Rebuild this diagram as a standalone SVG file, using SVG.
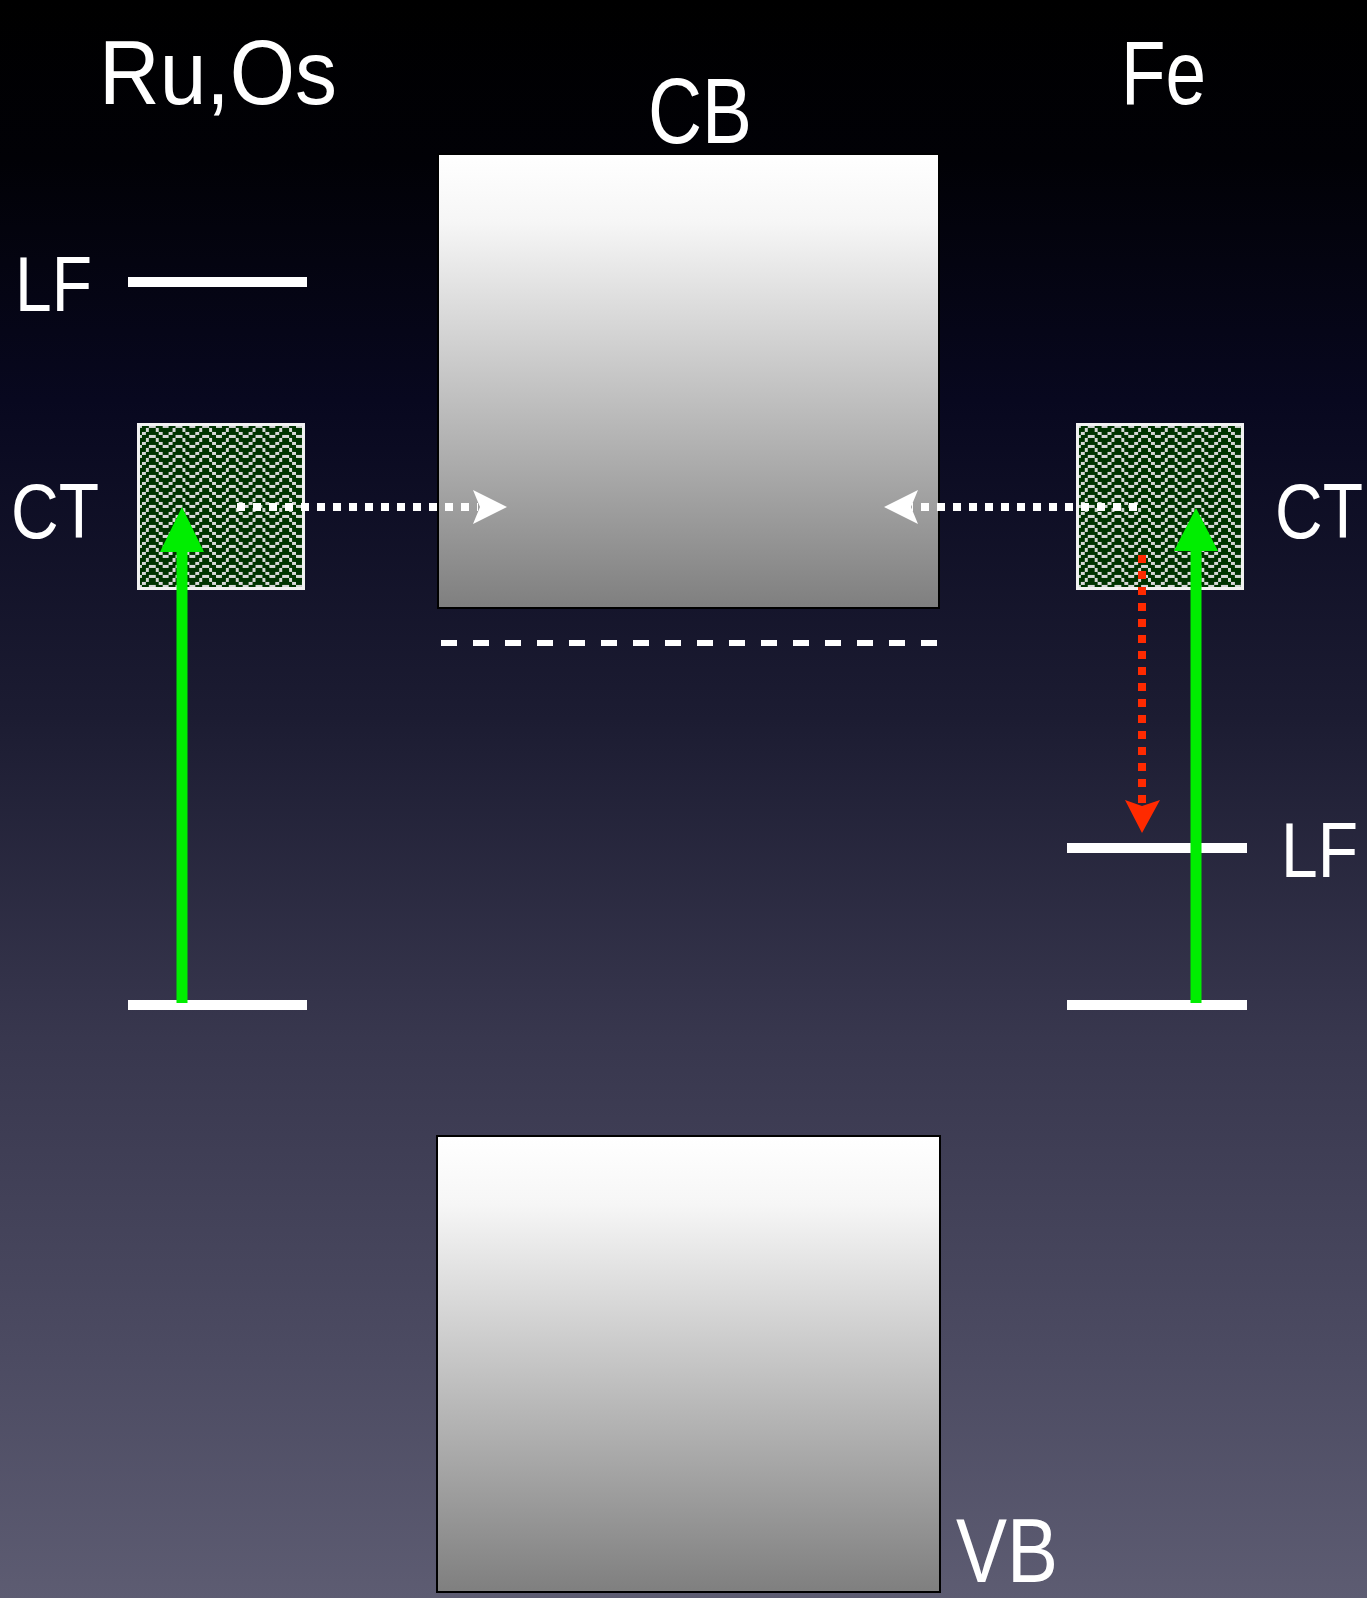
<svg xmlns="http://www.w3.org/2000/svg" width="1367" height="1598" viewBox="0 0 1367 1598">
  <defs>
    <linearGradient id="bg" x1="0" y1="0" x2="0" y2="1">
      <stop offset="0" stop-color="#000000"/>
      <stop offset="0.1" stop-color="#010106"/>
      <stop offset="0.25" stop-color="#08081f"/>
      <stop offset="0.45" stop-color="#1c1c32"/>
      <stop offset="0.65" stop-color="#38374e"/>
      <stop offset="0.85" stop-color="#4c4b62"/>
      <stop offset="1" stop-color="#5d5c72"/>
    </linearGradient>
    <linearGradient id="band" x1="0" y1="0" x2="0" y2="1">
      <stop offset="0" stop-color="#ffffff"/>
      <stop offset="0.15" stop-color="#f6f6f6"/>
      <stop offset="1" stop-color="#7f7f7f"/>
    </linearGradient>
    <pattern id="weave" patternUnits="userSpaceOnUse" patternTransform="scale(3.333)" x="41.7" y="127.5" width="8" height="3">
      <rect width="8" height="3" fill="#003300"/>
      <g fill="#d8d8d8" shape-rendering="crispEdges">
        <rect x="0" y="0" width="1" height="1"/>
        <rect x="3" y="0" width="2" height="1"/>
        <rect x="7" y="0" width="1" height="1"/>
        <rect x="2" y="1" width="1" height="1"/>
        <rect x="5" y="1" width="1" height="1"/>
        <rect x="1" y="2" width="1" height="1"/>
        <rect x="6" y="2" width="1" height="1"/>
      </g>
    </pattern>
    <pattern id="weave2" href="#weave" x="323.4"/>
  </defs>
  <style>
    .lbl { fill: #ffffff; font-family: "Liberation Sans", "DejaVu Sans", sans-serif; }
    .big { font-size: 90px; }
    .small { font-size: 66px; }
    .band { fill: url(#band); stroke: #000000; stroke-width: 2; }
    .level { stroke: #ffffff; stroke-width: 10; }
    .ct { stroke: #f2f2f2; stroke-width: 3; }
    .green { stroke: #00ee00; stroke-width: 11; fill: none; }
    .gh { fill: #00ee00; }
    .wdot { stroke: #ffffff; stroke-width: 8; stroke-dasharray: 8 8; fill: none; }
    .wh { fill: #ffffff; }
    .rdot { stroke: #ff2a00; stroke-width: 8; stroke-dasharray: 8 8; fill: none; }
    .rh { fill: #ff2a00; }
  </style>

  <rect x="0" y="0" width="1367" height="1598" fill="url(#bg)"/>

  <g id="title-ruos"><text class="lbl big" x="99" y="104" textLength="238" lengthAdjust="spacingAndGlyphs">Ru,Os</text></g>
  <g id="title-fe"><text class="lbl big" x="1121" y="104" textLength="85" lengthAdjust="spacingAndGlyphs">Fe</text></g>

  <g id="cb">
    <rect class="band" x="438" y="154" width="501" height="454"/>
    <text class="lbl big" x="648" y="143" textLength="104" lengthAdjust="spacingAndGlyphs" style="font-size:92px">CB</text>
  </g>

  <g id="vb">
    <rect class="band" x="437" y="1136" width="503" height="456"/>
    <text class="lbl big" x="956" y="1582" textLength="102" lengthAdjust="spacingAndGlyphs">VB</text>
  </g>

  <g id="dashed-level">
    <line x1="441" y1="643" x2="937" y2="643" stroke="#ffffff" stroke-width="6" stroke-dasharray="16 16"/>
  </g>

  <g id="left-lf">
    <line class="level" x1="128" y1="282" x2="307" y2="282"/>
    <text class="lbl small" transform="translate(15,311) scale(1,1.18)">LF</text>
  </g>
  <g id="left-ground">
    <line class="level" x1="128" y1="1005" x2="307" y2="1005"/>
  </g>
  <g id="left-ct">
    <rect class="ct" x="138.5" y="424.5" width="165" height="164" fill="url(#weave)"/>
    <text class="lbl small" transform="translate(11,538) scale(1,1.18)">CT</text>
  </g>

  <g id="right-lf">
    <line class="level" x1="1067" y1="848" x2="1247" y2="848"/>
    <text class="lbl small" transform="translate(1281,877) scale(1,1.18)">LF</text>
  </g>
  <g id="right-ground">
    <line class="level" x1="1067" y1="1005" x2="1247" y2="1005"/>
  </g>
  <g id="right-ct">
    <rect class="ct" x="1077.5" y="424.5" width="165" height="164" fill="url(#weave2)"/>
    <text class="lbl small" transform="translate(1275,538) scale(1,1.18)">CT</text>
  </g>

  <g id="connectors">
    <line class="green" x1="182" y1="1003" x2="182" y2="548"/>
    <polygon class="gh" points="182,507 204,552 160,552"/>
    <line class="green" x1="1196" y1="1003" x2="1196" y2="548"/>
    <polygon class="gh" points="1196,508 1218,551 1174,551"/>

    <line class="wdot" x1="237" y1="507" x2="478" y2="507"/>
    <polygon class="wh" points="507,507 473,490 480,507 473,524"/>
    <line class="wdot" x1="1137" y1="507" x2="912" y2="507"/>
    <polygon class="wh" points="884,507 918,490 911,507 918,524"/>

    <line class="rdot" x1="1142" y1="555" x2="1142" y2="803"/>
    <polygon class="rh" points="1142,833 1125,800 1142,806 1160,800"/>
  </g>
</svg>
